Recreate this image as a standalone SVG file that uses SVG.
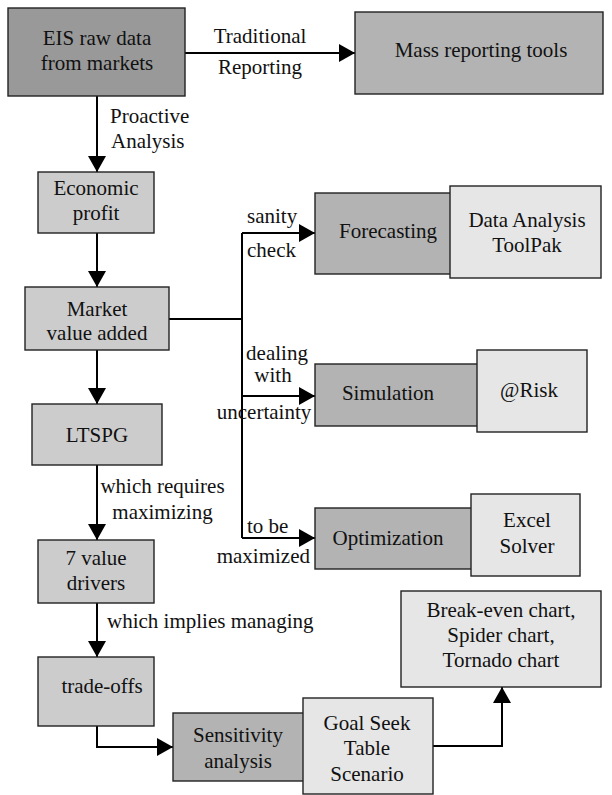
<svg xmlns="http://www.w3.org/2000/svg" width="612" height="795" viewBox="0 0 612 795">
<style>
text{font-family:"Liberation Serif","DejaVu Serif",serif;font-size:21px;fill:#111}
.m{text-anchor:middle}
.box{stroke:#222;stroke-width:1.4}
.d{fill:#999999}
.g{fill:#b3b3b3}
.l{fill:#cccccc}
.x{fill:#e6e6e6}
.c{fill:none;stroke:#000;stroke-width:2}
.a{marker-end:url(#ah)}
</style>
<defs>
<marker id="ah" markerUnits="userSpaceOnUse" markerWidth="17" markerHeight="18" refX="16" refY="9" orient="auto">
<path d="M0,0 L16,9 L0,18 z" fill="#000"/>
</marker>
</defs>
<rect width="612" height="795" fill="#fff"/>
<g id="connectors">
<path class="c a" d="M185,53 H355"/>
<path class="c a" d="M97,96 V172"/>
<path class="c a" d="M97,233 V287"/>
<path class="c a" d="M97,350 V404"/>
<path class="c a" d="M97,465 V540"/>
<path class="c a" d="M97,603 V657"/>
<path class="c a" d="M97,726 V747 H173"/>
<path class="c" d="M169,319 H242"/>
<path class="c" d="M242,233 V538"/>
<path class="c a" d="M242,233 H315"/>
<path class="c a" d="M242,396 H315"/>
<path class="c a" d="M242,538 H315"/>
<path class="c a" d="M433,746 H502 V687"/>
<text class="m" x="260" y="43">Traditional</text>
<text class="m" x="260" y="74">Reporting</text>
<text x="110" y="123">Proactive</text>
<text x="111" y="148">Analysis</text>
<text x="247" y="223">sanity</text>
<text x="247" y="257">check</text>
<text class="m" x="277" y="360">dealing</text>
<text class="m" x="273" y="382">with</text>
<text class="m" x="264" y="419">uncertainty</text>
<text class="m" x="162.5" y="493">which requires</text>
<text class="m" x="162.5" y="519">maximizing</text>
<text x="247" y="533">to be</text>
<text x="310" y="563" style="text-anchor:end">maximized</text>
<text x="107" y="628">which implies managing</text>
</g>
<g id="eis"><rect class="box d" x="8" y="8" width="177" height="88"/><text class="m" x="97" y="45">EIS raw data</text><text class="m" x="97" y="70">from markets</text></g>
<g id="mass"><rect class="box g" x="355" y="12" width="248" height="82"/><text class="m" x="481" y="57">Mass reporting tools</text></g>
<g id="econ"><rect class="box l" x="38" y="172" width="116" height="61"/><text class="m" x="96" y="195">Economic</text><text class="m" x="96" y="220">profit</text></g>
<g id="mva"><rect class="box l" x="25" y="287" width="144" height="63"/><text class="m" x="97" y="316">Market</text><text class="m" x="97" y="340">value added</text></g>
<g id="ltspg"><rect class="box l" x="32" y="404" width="130" height="61"/><text class="m" x="97" y="442">LTSPG</text></g>
<g id="drivers"><rect class="box l" x="38" y="540" width="116" height="63"/><text class="m" x="96" y="565">7 value</text><text class="m" x="96" y="590">drivers</text></g>
<g id="tradeoffs"><rect class="box l" x="38" y="657" width="116" height="69"/><text class="m" x="102" y="693">trade-offs</text></g>
<g id="forecasting"><rect class="box g" x="315" y="193" width="136" height="81"/><text class="m" x="388" y="238">Forecasting</text></g>
<g id="toolpak"><rect class="box x" x="450" y="186" width="151" height="92"/><text class="m" x="527" y="227">Data Analysis</text><text class="m" x="527" y="252">ToolPak</text></g>
<g id="simulation"><rect class="box g" x="315" y="364" width="163" height="62"/><text class="m" x="388" y="400">Simulation</text></g>
<g id="risk"><rect class="box x" x="477" y="350" width="110" height="82"/><text class="m" x="529" y="397">@Risk</text></g>
<g id="optimization"><rect class="box g" x="315" y="508" width="157" height="61"/><text class="m" x="388" y="545">Optimization</text></g>
<g id="solver"><rect class="box x" x="471" y="494" width="109" height="82"/><text class="m" x="527" y="527">Excel</text><text class="m" x="527" y="553">Solver</text></g>
<g id="sensitivity"><rect class="box g" x="173" y="713" width="131" height="68"/><text class="m" x="238" y="742">Sensitivity</text><text class="m" x="238" y="768">analysis</text></g>
<g id="goalseek"><rect class="box x" x="303" y="698" width="130" height="96"/><text class="m" x="367" y="730">Goal Seek</text><text class="m" x="367" y="755">Table</text><text class="m" x="367" y="781">Scenario</text></g>
<g id="charts"><rect class="box x" x="401" y="591" width="200" height="96"/><text class="m" x="501" y="617">Break-even chart,</text><text class="m" x="501" y="642">Spider chart,</text><text class="m" x="501" y="667">Tornado chart</text></g>
</svg>
